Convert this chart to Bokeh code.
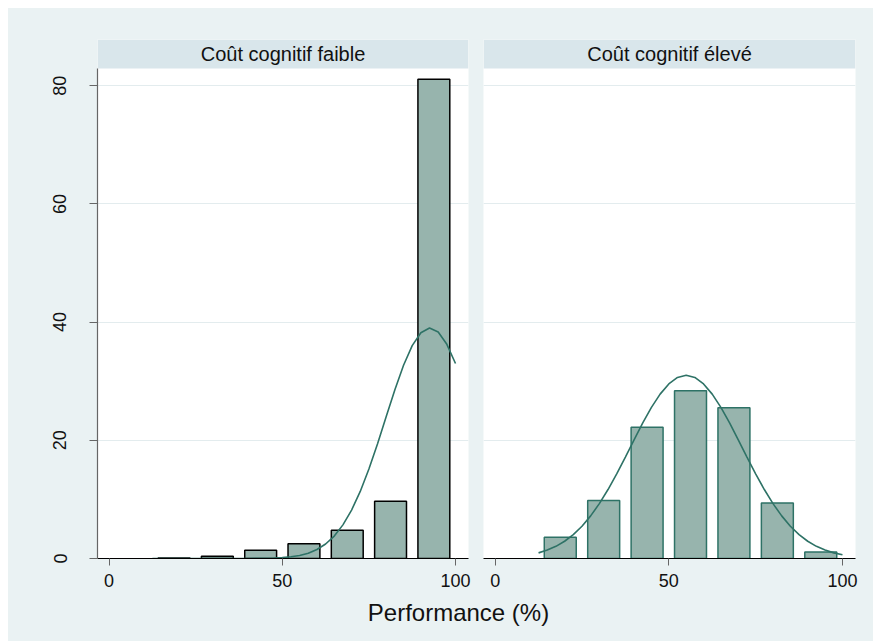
from bokeh.plotting import figure
from bokeh.layouts import row, column, Spacer
from bokeh.models import FixedTicker, Label, ColumnDataSource
from bokeh.embed import file_html
from bokeh.resources import INLINE

# ---- data ----
panel_titles = ["Coût cognitif faible", "Coût cognitif élevé"]
bin_centers = [18.75, 31.25, 43.75, 56.25, 68.75, 81.25, 93.75]
pct_low = [0.1, 0.4, 1.4, 2.5, 4.8, 9.7, 81.1]
pct_high = [3.6, 9.8, 22.2, 28.4, 25.5, 9.4, 1.1]

curve_x = [12.5, 15, 17.5, 20, 22.5, 25, 27.5, 30, 32.5, 35, 37.5, 40, 42.5, 45,
           47.5, 50, 52.5, 55, 57.5, 60, 62.5, 65, 67.5, 70, 72.5, 75, 77.5, 80,
           82.5, 85, 87.5, 90, 92.5, 95, 97.5, 100]
curve_low = [0, 0, 0, 0, 0, 0, 0, 0, 0, 0, 0.005, 0.008, 0.02, 0.04,
             0.08, 0.15, 0.29, 0.52, 0.90, 1.52, 2.45, 3.80, 5.69, 8.19, 11.35, 15.13, 19.43, 24.01,
             28.55, 32.69, 36.02, 38.20, 39.0, 38.32, 36.24, 32.99]
curve_high = [0.95, 1.42, 2.06, 2.92, 4.04, 5.46, 7.21, 9.28, 11.67, 14.33, 17.17, 20.08, 22.93, 25.56,
              27.81, 29.54, 30.63, 31.0, 30.63, 29.54, 27.81, 25.56, 22.93, 20.08, 17.17, 14.33, 11.67, 9.28,
              7.21, 5.46, 4.04, 2.92, 2.06, 1.42, 0.95, 0.62]

y_ticks = [0, 20, 40, 60, 80]
x_ticks = [0, 50, 100]
x_title = "Performance (%)"

# ---- style ----
BG = "#EAF2F3"
HEADER = "#D9E6EB"
FILL = "#97B4AD"
TEAL = "#2E7266"
FONT = "Liberation Sans"

X0, X1 = -3.35, 103.75
Y_WHITE_TOP = 82.9
Y_TOP = 87.81


def make_panel(title, values, curve, outline, width, mb_left, mb_right, show_y):
    p = figure(width=width, height=588, x_range=(X0, X1), y_range=(0, Y_TOP),
               output_backend="svg", toolbar_location=None,
               min_border_left=mb_left, min_border_right=mb_right,
               min_border_top=31, min_border_bottom=38,
               styles={"background-color": BG})
    p.background_fill_color = "white"
    p.border_fill_color = BG
    p.outline_line_color = None
    p.xgrid.visible = False
    p.ygrid.ticker = FixedTicker(ticks=y_ticks)
    p.ygrid.grid_line_color = "#E3ECEE"
    p.ygrid.grid_line_width = 1

    # header strip
    p.quad(left=[X0], right=[X1], bottom=[Y_WHITE_TOP], top=[Y_TOP],
           fill_color=HEADER, line_color=None)
    p.add_layout(Label(x=(X0 + X1) / 2, y=(Y_WHITE_TOP + Y_TOP) / 2, text=title,
                       text_align="center", text_baseline="middle",
                       text_font=FONT, text_font_size="20px", text_color="#111111"))

    src = ColumnDataSource(dict(x=bin_centers, top=values))
    p.vbar(x="x", top="top", bottom=0, width=9.2, source=src,
           fill_color=FILL, line_color=outline, line_width=1.5)
    p.line(curve_x, curve, line_color=TEAL, line_width=1.6)

    # x axis
    xa = p.xaxis[0]
    xa.ticker = FixedTicker(ticks=x_ticks)
    xa.axis_line_color = "black"
    xa.axis_line_width = 1.2
    xa.major_tick_line_color = "#666666"
    xa.major_tick_out = 7
    xa.major_tick_in = 0
    xa.minor_tick_line_color = None
    xa.major_label_text_font = FONT
    xa.major_label_text_font_size = "18px"
    xa.major_label_text_color = "#111111"
    xa.major_label_standoff = 8

    ya = p.yaxis[0]
    if show_y:
        ya.ticker = FixedTicker(ticks=y_ticks)
        ya.bounds = (0, Y_WHITE_TOP)
        ya.axis_line_color = "#666666"
        ya.axis_line_width = 1.2
        ya.major_tick_line_color = "#666666"
        ya.major_tick_out = 8
        ya.major_tick_in = 0
        ya.minor_tick_line_color = None
        ya.major_label_orientation = "vertical"
        ya.major_label_text_font = FONT
        ya.major_label_text_font_size = "18px"
        ya.major_label_text_color = "#111111"
        ya.major_label_standoff = 23
    else:
        ya.visible = False
    return p


p1 = make_panel(panel_titles[0], pct_low, curve_low, "black", 468, 89, 8, True)
p2 = make_panel(panel_titles[1], pct_high, curve_high, TEAL, 397, 7, 18, False)

p3 = figure(width=865, height=45, x_range=(0, 865), y_range=(0, 45),
            output_backend="svg", toolbar_location=None,
            min_border_left=0, min_border_right=0, min_border_top=0, min_border_bottom=0,
            styles={"background-color": BG})
p3.axis.visible = False
p3.grid.visible = False
p3.outline_line_color = None
p3.background_fill_color = BG
p3.border_fill_color = BG
p3.add_layout(Label(x=450, y=29, text=x_title, text_align="center", text_baseline="middle",
                    text_font=FONT, text_font_size="24px", text_color="#111111"))

panels = row(p1, p2, styles={"background-color": BG})
inner = column(panels, p3, styles={"background-color": BG})
layout = column(Spacer(height=8, width=873),
                row(Spacer(width=8, height=633), inner))
open("out.html", "w").write(file_html(layout, INLINE))
